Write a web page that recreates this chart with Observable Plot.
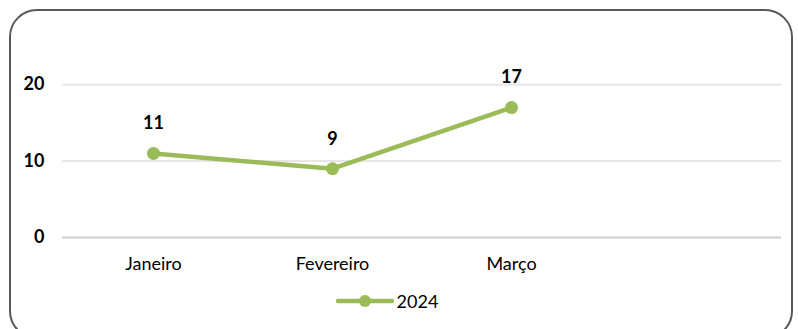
<!DOCTYPE html>
<html><head><meta charset="utf-8">
<script src="https://cdn.jsdelivr.net/npm/d3@7"></script>
<script src="https://cdn.jsdelivr.net/npm/@observablehq/plot@0.6"></script>
<style>
body{margin:0;background:#fff;font-family:Lato,"Open Sans",sans-serif;}
#wrap{position:relative;width:798px;height:329px;overflow:hidden;}
#box{position:absolute;left:9px;top:9px;width:784px;height:330px;border:2px solid #595959;border-radius:28px;box-sizing:border-box;}
#chart{position:absolute;left:0;top:0;}
#legend{position:absolute;left:0;top:290px;width:798px;display:flex;justify-content:center;align-items:center;font-size:18px;color:#000;padding-right:24px;box-sizing:border-box;}
</style></head>
<body><div id="wrap"><div id="chart"></div><div id="legend"></div><div id="box"></div></div>
<script>
const categories = ["Janeiro", "Fevereiro", "Março", ""];
const series = "2024";
const values = [11, 9, 17];
const yTicks = [0, 10, 20];

const data = values.map((v, i) => ({month: categories[i], value: v}));
const color = "#9BBB59";

const chart = Plot.plot({
  width: 798,
  height: 288,
  marginLeft: 62,
  marginRight: 17,
  marginTop: 46,
  marginBottom: 51,
  style: {fontFamily: "Lato, 'Open Sans', sans-serif", fontSize: "18px", color: "#000", background: "transparent"},
  x: {type: "point", domain: categories, padding: 0.5, label: null},
  y: {domain: [0, 25], label: null},
  marks: [
    Plot.ruleY(yTicks.filter(d => d > 0), {stroke: "#e6e6e6", strokeWidth: 2}),
    Plot.ruleY([0], {stroke: "#d0d0d0", strokeWidth: 2}),
    Plot.axisY({ticks: yTicks, tickSize: 0, tickPadding: 18, fontWeight: "bold", fontSize: 18, textAnchor: "end"}),
    Plot.axisX({tickSize: 0, tickPadding: 20, fontSize: 18}),
    Plot.line(data, {x: "month", y: "value", stroke: color, strokeWidth: 4.5}),
    Plot.dot(data, {x: "month", y: "value", fill: color, r: 6.5}),
    Plot.text(data, {x: "month", y: "value", text: d => String(d.value), dy: -30, fontWeight: "bold", fontSize: 18, fill: "#000"})
  ]
});
document.getElementById("chart").appendChild(chart);

const leg = document.getElementById("legend");
leg.innerHTML = `<svg width="58" height="16"><line x1="2" y1="8" x2="56" y2="8" stroke="${color}" stroke-width="4.5" stroke-linecap="round"/><circle cx="29" cy="8" r="6" fill="${color}"/></svg><span style="margin-left:3px">${series}</span>`;
</script></body></html>
